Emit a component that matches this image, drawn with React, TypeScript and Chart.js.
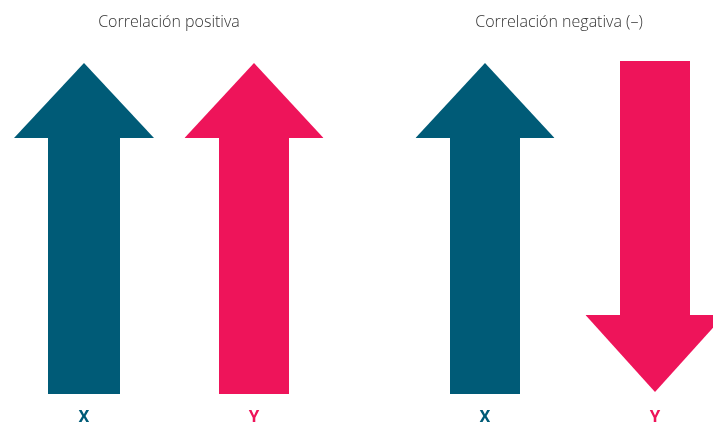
import React, { useEffect, useRef } from 'react';
import { Chart, registerables } from 'chart.js';

Chart.register(...registerables);

// Arrow glyphs (coordinates in the illustration's own units, y grows downward)
const arrowLabels = ['X', 'Y', 'X', 'Y'];
const arrowCenters = [84, 254, 485, 655];
const arrowTipY = [63, 63, 63, 392];
const arrowHeadBaseY = [138, 138, 138, 315];
const arrowTailY = [394, 394, 394, 61];
const shaftWidths = [72, 70, 70, 70];
const headWidths = [140, 139, 139, 139];
const arrowColors = ['#005B77', '#EE145A', '#005B77', '#EE145A'];

// Panel titles
const groupTitles = ['Correlación positiva', 'Correlación negativa (–)'];
const groupCenters = [169, 559];

const W = 713;
const H = 424;
const TOP_AXIS_H = 44;
const BOTTOM_AXIS_H = 24;

export default function App() {
  const ref = useRef<HTMLCanvasElement | null>(null);

  useEffect(() => {
    if (!ref.current) return;
    const datasets: any[] = [];
    arrowCenters.forEach((c, i) => {
      const sw = shaftWidths[i] / 2;
      const hw = headWidths[i] / 2;
      const base = arrowHeadBaseY[i];
      datasets.push({
        label: arrowLabels[i] + ' shaft',
        data: [
          { x: c - sw, y: arrowTailY[i] },
          { x: c + sw, y: arrowTailY[i] },
        ],
        fill: { value: base },
        backgroundColor: arrowColors[i],
        borderColor: arrowColors[i],
        borderWidth: 0,
        pointRadius: 0,
        tension: 0,
      });
      datasets.push({
        label: arrowLabels[i] + ' head',
        data: [
          { x: c - hw, y: base },
          { x: c, y: arrowTipY[i] },
          { x: c + hw, y: base },
        ],
        fill: { value: base },
        backgroundColor: arrowColors[i],
        borderColor: arrowColors[i],
        borderWidth: 0,
        pointRadius: 0,
        tension: 0,
      });
    });

    const chart = new Chart(ref.current, {
      type: 'line',
      data: { datasets },
      options: {
        animation: false,
        responsive: true,
        maintainAspectRatio: false,
        events: [],
        layout: { padding: 0 },
        plugins: {
          legend: { display: false },
          tooltip: { enabled: false },
          title: { display: false },
        },
        scales: {
          x: {
            type: 'linear',
            position: 'bottom',
            min: 0,
            max: W,
            grid: { display: false, drawTicks: false },
            border: { display: false },
            afterBuildTicks: (scale: any) => {
              scale.ticks = arrowCenters.map((v) => ({ value: v }));
            },
            afterFit: (scale: any) => {
              scale.height = BOTTOM_AXIS_H;
            },
            ticks: {
              autoSkip: false,
              maxRotation: 0,
              minRotation: 0,
              padding: 8,
              font: { family: 'Roboto', size: 17, weight: 'bold' },
              color: (ctx: any) => arrowColors[ctx.index] || '#000',
              callback: (_v: any, idx: number) => arrowLabels[idx],
            },
          },
          xTop: {
            type: 'linear',
            position: 'top',
            min: 0,
            max: W,
            grid: { display: false, drawTicks: false },
            border: { display: false },
            afterBuildTicks: (scale: any) => {
              scale.ticks = groupCenters.map((v) => ({ value: v }));
            },
            afterFit: (scale: any) => {
              scale.height = TOP_AXIS_H;
            },
            ticks: {
              autoSkip: false,
              maxRotation: 0,
              minRotation: 0,
              padding: 12,
              font: { family: 'Open Sans', size: 16, weight: '300' },
              color: '#333333',
              callback: (_v: any, idx: number) => groupTitles[idx],
            },
          },
          y: {
            type: 'linear',
            display: false,
            reverse: true,
            min: TOP_AXIS_H,
            max: H - BOTTOM_AXIS_H,
          },
        },
      } as any,
    });
    return () => chart.destroy();
  }, []);

  return (
    <div style={{ position: 'absolute', left: 0, top: 0, width: W, height: H, background: '#fff' }}>
      <canvas ref={ref} />
    </div>
  );
}
